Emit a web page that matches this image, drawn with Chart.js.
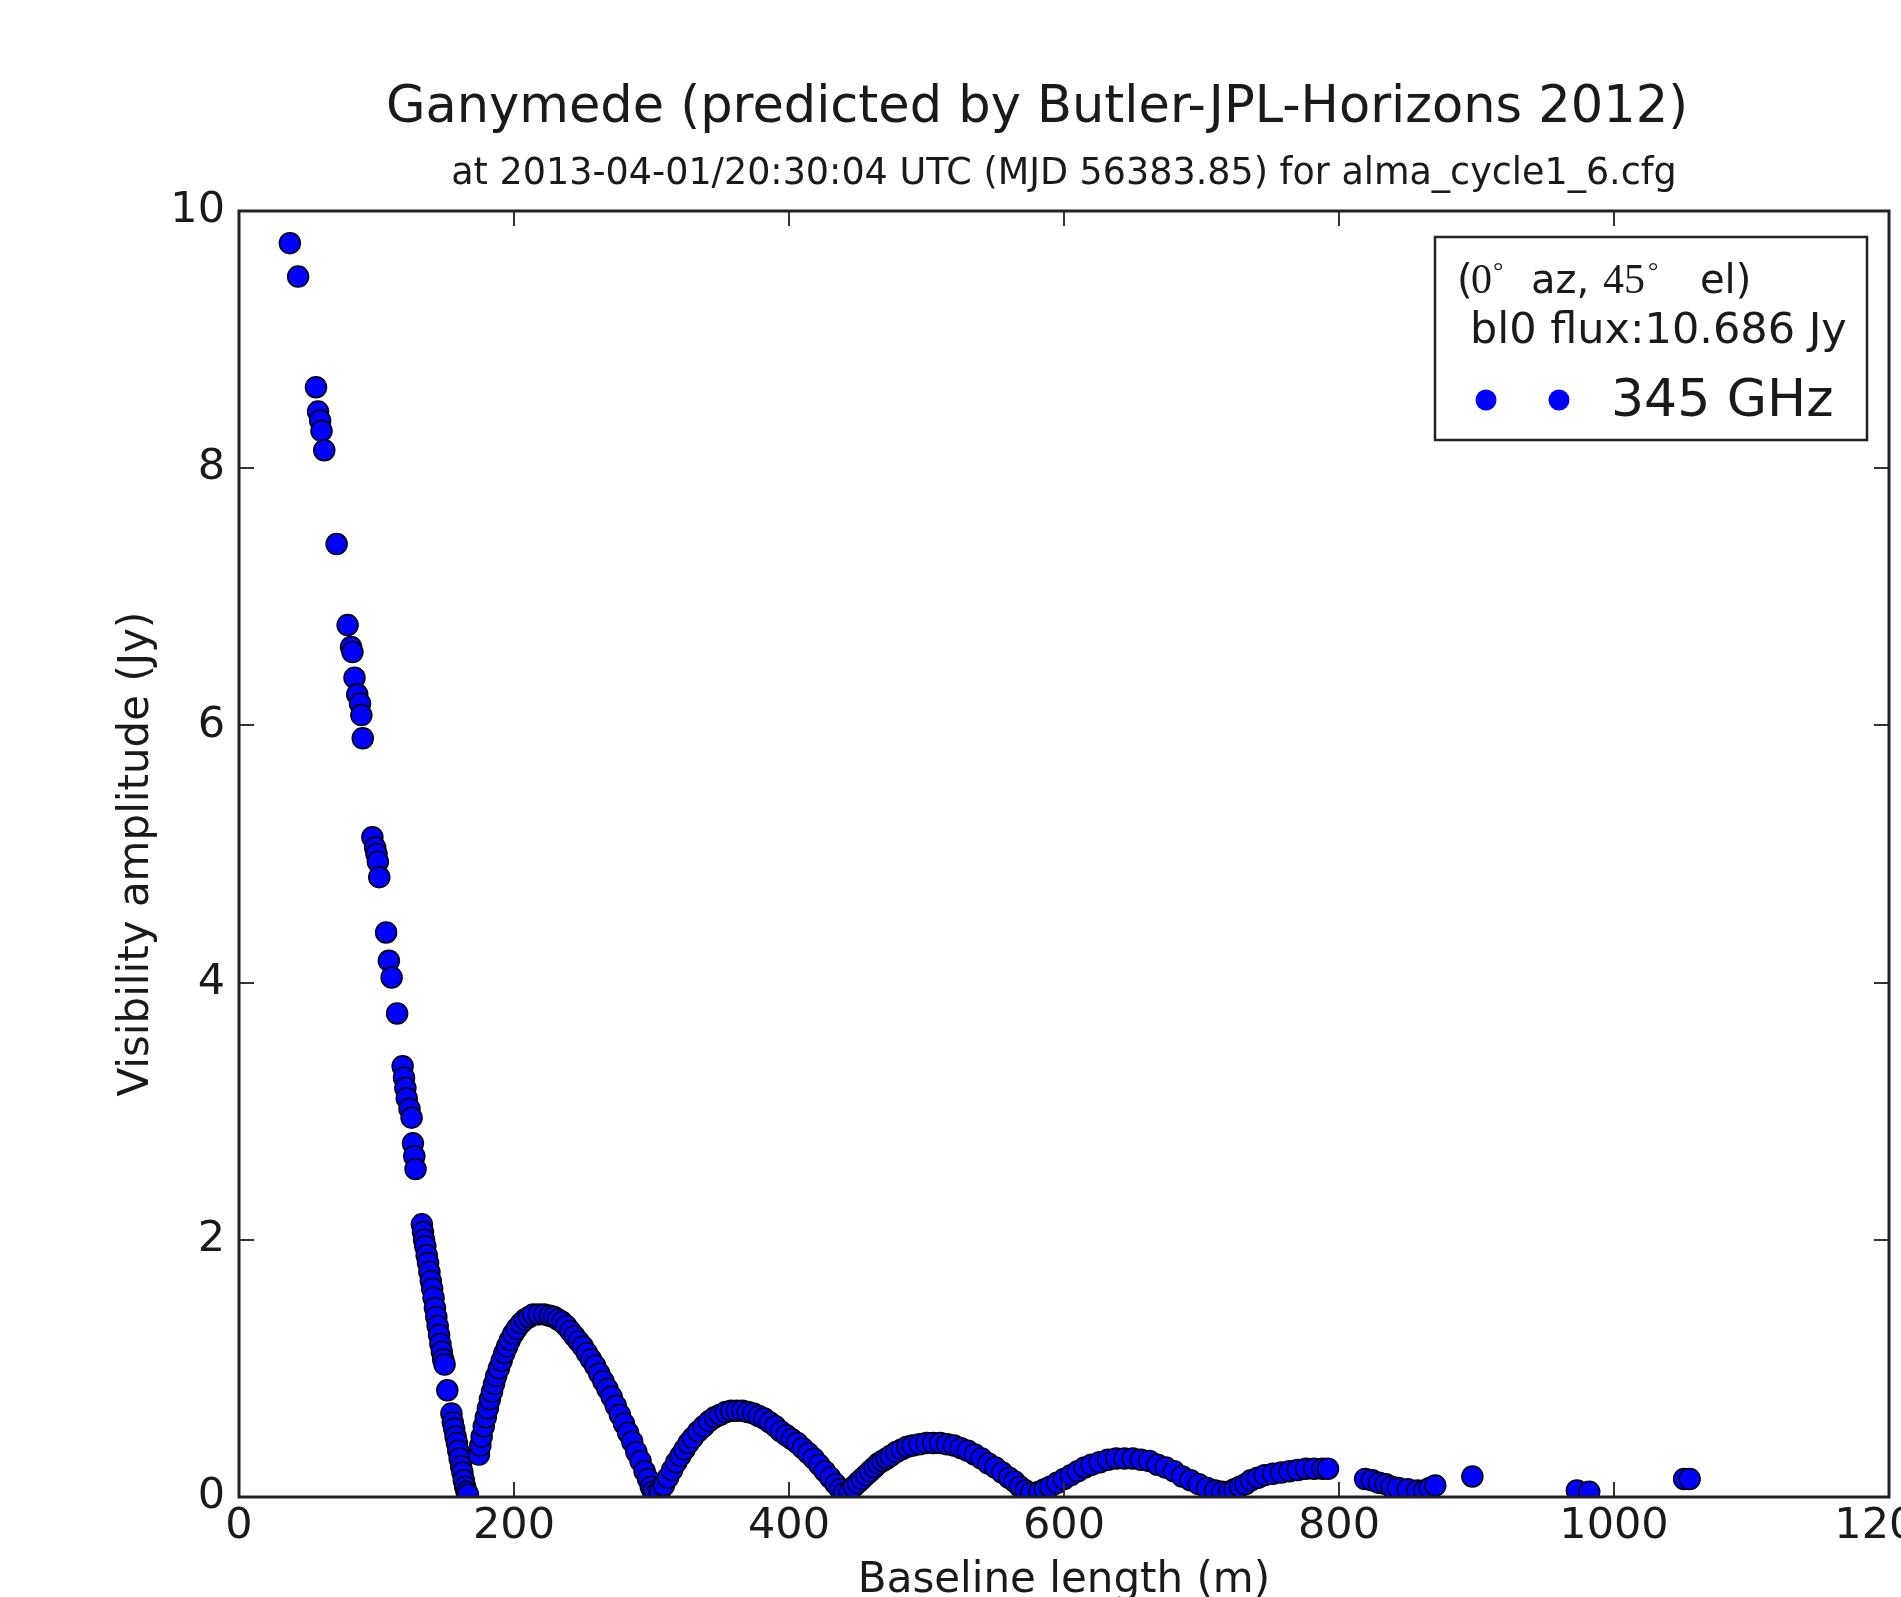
<!DOCTYPE html>
<html>
<head>
<meta charset="utf-8">
<script src="https://cdn.jsdelivr.net/npm/chart.js@4.4.1/dist/chart.umd.min.js"></script>
<style>
  html, body { margin: 0; padding: 0; background: #fff; }
  canvas { display: block; }
</style>
</head>
<body>
<canvas id="myChart" width="1901" height="1597"></canvas>
<script>
var titleText = 'Ganymede (predicted by Butler-JPL-Horizons 2012)';
var subtitleText = 'at 2013-04-01/20:30:04 UTC (MJD 56383.85) for alma_cycle1_6.cfg';
var xTitle = 'Baseline length (m)';
var yTitle = 'Visibility amplitude (Jy)';
var seriesLabel = '345 GHz';
var fluxNote = 'bl0 flux:10.686 Jy';

var xTicks = [0, 200, 400, 600, 800, 1000, 1200];
var yTicks = [0, 2, 4, 6, 8, 10];

// [baseline (m), amplitude (Jy)]
var shortBaselines = [
  [37, 9.75], [43, 9.49], [56, 8.63], [57.5, 8.44], [59, 8.37], [60, 8.29], [62, 8.14],
  [71, 7.41], [79, 6.78], [81.5, 6.61], [82.5, 6.57], [84, 6.37], [86, 6.24], [88, 6.17],
  [89, 6.08], [90, 5.90], [97, 5.13], [99, 5.05], [100, 5.00], [101, 4.94], [102, 4.82],
  [107, 4.39], [109, 4.17], [111, 4.04], [115, 3.76], [119, 3.35], [120, 3.26], [121, 3.18],
  [122, 3.10], [124, 3.02], [125.5, 2.95], [126.5, 2.75], [127.5, 2.65], [128.4, 2.55]
];
var mainLobeEdge = [
  [133, 2.12], [133.8, 2.06], [134.6, 2.00], [135.5, 1.95], [136.5, 1.88], [137.5, 1.82],
  [138.5, 1.75], [139.5, 1.68], [140.5, 1.62], [141.5, 1.55], [142.5, 1.47], [143.5, 1.40],
  [144.5, 1.33], [145.5, 1.26], [146.5, 1.19], [147.5, 1.13], [148.5, 1.07], [149.5, 1.03],
  [151.5, 0.83], [154.5, 0.65], [155.5, 0.58], [156.5, 0.53], [157.5, 0.47], [158.5, 0.42],
  [159.5, 0.36], [160.5, 0.30], [161.5, 0.24], [162.5, 0.19], [163.5, 0.13], [164.5, 0.08],
  [165.5, 0.04], [166.5, 0.02]
];
var lobe2 = [
  [174.5, 0.33], [175.5, 0.40], [176.5, 0.47], [178, 0.55], [179.5, 0.62], [181, 0.69],
  [182.5, 0.76], [184, 0.82], [185.5, 0.88], [187, 0.94], [189, 1.00], [191, 1.06],
  [193, 1.12], [195, 1.17], [197, 1.22], [199.5, 1.27], [202, 1.31], [205, 1.35],
  [208, 1.38], [211, 1.40], [214, 1.42], [218, 1.42], [222, 1.42], [226, 1.41],
  [229, 1.40], [232, 1.38], [235, 1.36], [238, 1.33], [241, 1.29], [244, 1.25],
  [247, 1.21], [250, 1.17], [253, 1.12], [256, 1.07], [259, 1.02], [262, 0.96],
  [265, 0.90], [268, 0.84], [271, 0.78], [274, 0.71], [277, 0.64], [280, 0.57],
  [283, 0.50], [286, 0.43], [289, 0.35], [292, 0.28], [295, 0.20], [297.5, 0.14],
  [299.5, 0.08], [301, 0.04], [303, 0.02]
];
var lobe3 = [
  [306, 0.04], [309, 0.09], [312, 0.15], [315, 0.21], [318, 0.27], [321, 0.32],
  [324, 0.37], [327, 0.42], [330, 0.46], [334, 0.51], [338, 0.55], [342, 0.59],
  [346, 0.62], [350, 0.64], [354, 0.66], [358, 0.67], [362, 0.67], [366, 0.67],
  [370, 0.66], [374, 0.65], [378, 0.63], [382, 0.61], [386, 0.58], [390, 0.55],
  [394, 0.51], [398, 0.48], [402, 0.45], [406, 0.42], [410, 0.38], [414, 0.34],
  [418, 0.30], [422, 0.25], [426, 0.20], [430, 0.15], [434, 0.10], [437, 0.06], [440, 0.03]
];
var lobe4 = [
  [444, 0.04], [447, 0.08], [450, 0.11], [453, 0.14], [456, 0.17], [459, 0.20],
  [462, 0.23], [465, 0.26], [468, 0.28], [471, 0.30], [474, 0.32], [478, 0.35],
  [482, 0.37], [486, 0.39], [490, 0.40], [495, 0.41], [500, 0.42], [505, 0.42],
  [510, 0.42], [515, 0.41], [520, 0.40], [525, 0.38], [530, 0.36], [535, 0.33],
  [540, 0.30], [545, 0.26], [550, 0.23], [555, 0.19], [560, 0.15], [564, 0.12],
  [568, 0.08], [572, 0.05], [576, 0.03]
];
var lobe5 = [
  [582, 0.04], [586, 0.06], [590, 0.08], [595, 0.11], [600, 0.14], [605, 0.17],
  [610, 0.20], [615, 0.23], [620, 0.25], [626, 0.27], [632, 0.29], [638, 0.30],
  [644, 0.30], [650, 0.30], [656, 0.29], [662, 0.28], [668, 0.25], [674, 0.23],
  [680, 0.20], [686, 0.16], [692, 0.13], [698, 0.10], [704, 0.07], [710, 0.05], [715, 0.04]
];
var lobe6 = [
  [720, 0.04], [724, 0.06], [728, 0.08], [732, 0.10], [736, 0.13], [741, 0.15],
  [746, 0.17], [752, 0.18], [758, 0.19], [764, 0.20], [770, 0.21], [776, 0.22],
  [782, 0.22], [788, 0.22], [792, 0.22]
];
var longBaselines = [
  [819, 0.14], [824, 0.13], [829, 0.11], [834, 0.10], [838, 0.08], [843, 0.07],
  [850, 0.06], [857, 0.05], [862, 0.05], [866, 0.07], [870, 0.09], [897, 0.16],
  [973, 0.05], [982, 0.04], [1051, 0.14], [1055, 0.14]
];

var points = shortBaselines.concat(mainLobeEdge, lobe2, lobe3, lobe4, lobe5, lobe6, longBaselines)
  .map(function (p) { return { x: p[0], y: p[1] }; });

var sans = '"DejaVu Sans", sans-serif';
var serif = '"Liberation Serif", "DejaVu Serif", serif';
var ink = '#1a1a1a';

var decor = {
  id: 'decor',
  afterDraw: function (chart) {
    var c = chart.ctx, a = chart.chartArea;
    var xs = chart.scales.x, ys = chart.scales.y;
    c.save();

    // inward ticks on all four sides
    c.strokeStyle = '#333';
    c.lineWidth = 2;
    c.beginPath();
    xTicks.forEach(function (v) {
      var px = Math.round(xs.getPixelForValue(v));
      c.moveTo(px, a.bottom); c.lineTo(px, a.bottom - 15);
      c.moveTo(px, a.top); c.lineTo(px, a.top + 15);
    });
    yTicks.forEach(function (v) {
      var py = Math.round(ys.getPixelForValue(v));
      c.moveTo(a.left, py); c.lineTo(a.left + 15, py);
      c.moveTo(a.right, py); c.lineTo(a.right - 15, py);
    });
    c.stroke();

    // frame
    c.strokeStyle = '#222';
    c.lineWidth = 3;
    c.strokeRect(a.left, a.top, a.right - a.left, a.bottom - a.top);

    // titles
    c.fillStyle = ink;
    c.textAlign = 'center';
    c.textBaseline = 'alphabetic';
    c.font = '51px ' + sans;
    c.fillText(titleText, 1037, 122);
    c.font = '36.5px ' + sans;
    c.fillText(subtitleText, (a.left + a.right) / 2, 184);
    c.font = '42px ' + sans;
    c.fillText(xTitle, (a.left + a.right) / 2, 1592);
    c.save();
    c.translate(148, (a.top + a.bottom) / 2);
    c.rotate(-Math.PI / 2);
    c.fillText(yTitle, 0, 0);
    c.restore();

    // legend
    c.fillStyle = '#fff';
    c.fillRect(1435, 237, 432, 203);
    c.strokeStyle = '#222';
    c.lineWidth = 2.5;
    c.strokeRect(1435, 237, 432, 203);
    c.fillStyle = ink;
    c.textAlign = 'left';
    c.font = '40px ' + sans;
    c.fillText('(', 1457, 293);
    c.font = '42px ' + serif;
    c.fillText('0', 1471, 293);
    c.font = '26px ' + serif;
    c.fillText('\u00b0', 1493, 279);
    c.font = '40px ' + sans;
    c.fillText('az,', 1531, 293);
    c.font = '42px ' + serif;
    c.fillText('45', 1603, 293);
    c.font = '26px ' + serif;
    c.fillText('\u00b0', 1648, 279);
    c.font = '40px ' + sans;
    c.fillText('el)', 1700, 293);
    c.font = '43px ' + sans;
    c.fillText(fluxNote, 1470, 343);
    c.font = '52px ' + sans;
    c.fillText(seriesLabel, 1611, 416);
    c.fillStyle = '#0000ff';
    [1486, 1559].forEach(function (mx) {
      c.beginPath();
      c.arc(mx, 400, 10.5, 0, Math.PI * 2);
      c.fill();
    });
    c.restore();
  }
};

var ctx = document.getElementById('myChart').getContext('2d');
var visChart = new Chart(ctx, {
  type: 'scatter',
  data: {
    datasets: [{
      label: seriesLabel,
      data: points,
      backgroundColor: '#0000ff',
      borderColor: '#000',
      borderWidth: 1.5,
      pointRadius: 10.5,
      clip: 0
    }]
  },
  options: {
    responsive: false,
    animation: false,
    devicePixelRatio: 1,
    layout: { padding: { top: 211, right: 8, left: 0, bottom: 0 } },
    plugins: {
      legend: { display: false },
      tooltip: { enabled: false },
      title: { display: false }
    },
    scales: {
      x: {
        type: 'linear',
        min: 0,
        max: 1200,
        grid: { display: false, drawTicks: false },
        border: { display: false },
        ticks: {
          font: { family: 'DejaVu Sans', size: 43 }, color: ink, padding: 4, maxRotation: 0, autoSkip: false,
          callback: function (v) { return String(v); }
        },
        afterBuildTicks: function (s) { s.ticks = xTicks.map(function (v) { return { value: v }; }); },
        afterFit: function (s) { s.height = 100; s.paddingLeft = 0; s.paddingRight = 0; }
      },
      y: {
        type: 'linear',
        min: 0,
        max: 10,
        grid: { display: false, drawTicks: false },
        border: { display: false },
        ticks: {
          font: { family: 'DejaVu Sans', size: 43 }, color: ink, padding: 14, autoSkip: false,
          callback: function (v) { return String(v); }
        },
        afterBuildTicks: function (s) { s.ticks = yTicks.map(function (v) { return { value: v }; }); },
        afterFit: function (s) { s.width = 239; s.paddingTop = 0; s.paddingBottom = 0; }
      }
    }
  },
  plugins: [decor]
});
</script>
</body>
</html>
